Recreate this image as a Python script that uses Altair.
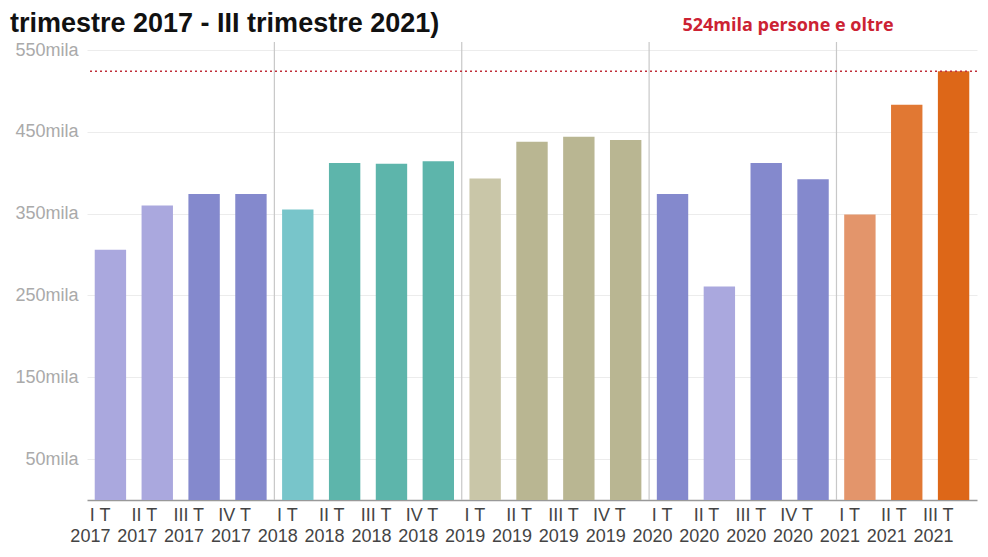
import altair as alt
import pandas as pd

quarters = ["I T", "II T", "III T", "IV T"] * 4 + ["I T", "II T", "III T"]
years = ["2017"] * 4 + ["2018"] * 4 + ["2019"] * 4 + ["2020"] * 4 + ["2021"] * 3
values = [306, 360, 374, 374, 355, 412, 411, 414, 393, 438, 444, 440,
          374, 261, 412, 392, 349, 483, 524]
colors = ["#aaa8de", "#aaa8de", "#8489cd", "#8489cd",
          "#78c5ca", "#5db5ab", "#5db5ab", "#5db5ab",
          "#c9c6a8", "#b9b692", "#b9b692", "#b9b692",
          "#8489cd", "#aaa8de", "#8489cd", "#8489cd",
          "#e3956b", "#e17833", "#dd6718"]
year_starts = ["I T|2018", "I T|2019", "I T|2020", "I T|2021"]
y_ticks = [50, 150, 250, 350, 450, 550]
threshold = [524]
title_text = "trimestre 2017 - III trimestre 2021)"
note_text = "524mila persone e oltre"

cats = [f"{q}|{y}" for q, y in zip(quarters, years)]
df = pd.DataFrame({"cat": cats, "value": values, "color": colors})

W, H = 890, 450
xscale = alt.Scale(domain=cats, paddingInner=0, paddingOuter=0)
yscale = alt.Scale(domain=[0, 550], nice=False)

base = alt.Chart(df)

bars = base.mark_bar(width=alt.RelativeBandSize(0.67)).encode(
    x=alt.X("cat:N", sort=cats, scale=xscale,
            axis=alt.Axis(title=None, labelAngle=0, ticks=False,
                          labelExpr="split(datum.label, '|')",
                          labelFont="Liberation Sans", labelFontSize=18,
                          labelColor="#444444", labelLineHeight=21,
                          labelBaseline="top",
                          labelPadding=6, domainColor="#999999",
                          domainWidth=1.5, labelOverlap=False)),
    y=alt.Y("value:Q", scale=yscale,
            axis=alt.Axis(title=None, values=y_ticks,
                          labelExpr="datum.value + 'mila'",
                          labelFont="Liberation Sans", labelFontSize=18,
                          labelColor="#aaaaaa", labelPadding=9,
                          ticks=False, domain=False,
                          gridColor="#ececec", gridWidth=1)),
    color=alt.Color("color:N", scale=None),
)

seps = alt.Chart(pd.DataFrame({"cat": year_starts})).mark_rule(
    color="#c8c8c8", strokeWidth=1.2
).encode(
    x=alt.X("cat:N", sort=cats, scale=xscale, bandPosition=0),
    y=alt.value(-8),
    y2=alt.value(H),
)

line = alt.Chart(pd.DataFrame({"v": threshold})).mark_rule(
    color="#c0303a", strokeDash=[2, 3], strokeWidth=1.6
).encode(y=alt.Y("v:Q", scale=yscale))

note = alt.Chart(pd.DataFrame({"t": [note_text]})).mark_text(
    font="Open Sans", fontSize=18, fontWeight="bold", color="#cc2233",
    align="center", baseline="middle"
).encode(text="t:N", x=alt.value(701), y=alt.value(-24))

title = alt.Chart(pd.DataFrame({"t": [title_text]})).mark_text(
    font="Liberation Sans", fontSize=27, fontWeight="bold", color="#111111",
    align="left", baseline="alphabetic"
).encode(text="t:N", x=alt.value(-77), y=alt.value(-18))

chart = alt.layer(seps, bars, line, note, title).properties(
    width=W, height=H,
    autosize=alt.AutoSizeParams(type="none"),
    padding={"left": 79, "top": 42, "right": 3, "bottom": 46},
).configure_view(stroke=None)

chart.save("out.html", embed_options={"renderer": "svg", "actions": False})
